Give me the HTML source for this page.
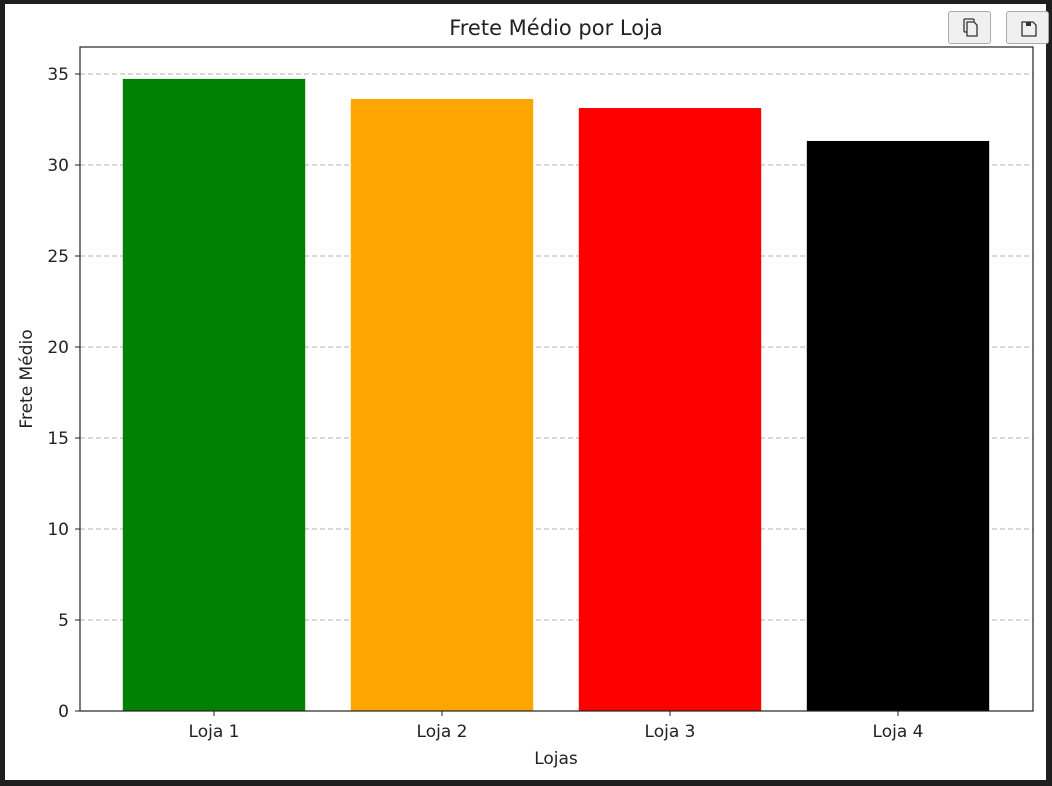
<!DOCTYPE html>
<html><head><meta charset="utf-8"><style>
body{margin:0;width:1052px;height:786px;background:#1f1f1f;overflow:hidden;font-family:"DejaVu Sans","Liberation Sans",sans-serif}
#card{position:absolute;left:5px;top:4px;width:1041px;height:776px;background:#fff}
.btn{position:absolute;top:11px;width:43px;height:33px;border:1px solid #aaa;border-radius:3px;background:#f0f0f0;box-sizing:border-box}
</style></head><body>
<div id="card"></div>
<div class="btn" style="left:948px">
<svg width="43" height="33"><rect x="15" y="7" width="10" height="13" fill="none" stroke="#333" stroke-width="1.3" rx="1"/><path d="M18 10h7l3 3v11h-10z" fill="#f0f0f0" stroke="#333" stroke-width="1.3"/></svg></div>
<div class="btn" style="left:1006px">
<svg width="43" height="33"><path d="M15 10h11l3 3v11h-14z" fill="none" stroke="#333" stroke-width="1.3"/><rect x="19" y="10" width="5" height="4" fill="#333"/></svg></div>
<svg id="chart" width="1052" height="786" style="position:absolute;left:0;top:0"></svg>
<script>
const categories=["Loja 1","Loja 2","Loja 3","Loja 4"];
const values=[34.73,33.63,33.13,31.32];
const colors=["green","orange","red","black"];
const yTicks=[0,5,10,15,20,25,30,35];
const L=80,R=1033,T=47,B=711;
const y=v=>B-v*(B-74)/35;
const step=228, x0=214;
const x=i=>x0+i*step;
const bw=0.8*step;
const svg=document.getElementById('chart');
const NS='http://www.w3.org/2000/svg';
function mk(t,a,txt){const e=document.createElementNS(NS,t);for(const k in a)e.setAttribute(k,a[k]);if(txt!=null)e.textContent=txt;svg.appendChild(e);return e;}
yTicks.forEach(v=>{
 if(v>0){const g=mk('line',{x1:L,x2:R,y1:y(v),y2:y(v),stroke:'#b0b0b0','stroke-dasharray':'5,3','stroke-width':1});
 
 }
 const tk=mk('line',{x1:L-5,x2:L,y1:y(v),y2:y(v),stroke:'#222'});
 
 
 const t=mk('text',{x:L-11,y:y(v)+6,'text-anchor':'end','font-size':17,fill:'#222'},v);
 
 
});
categories.forEach((c,i)=>{
 const b=mk('rect',{x:x(i)-bw/2,y:y(values[i]),width:bw,height:B-y(values[i]),fill:colors[i]});
 
 
 const tk=mk('line',{x1:x(i),x2:x(i),y1:B,y2:B+5,stroke:'#222'});
 
 
 const t=mk('text',{x:x(i),y:B+26,'text-anchor':'middle','font-size':17,fill:'#222'},c);
 
 
});
const fr=mk('rect',{x:L,y:T,width:R-L,height:B-T,fill:'none',stroke:'#222','stroke-width':1.2});


const ti=mk('text',{x:556,y:35,'text-anchor':'middle','font-size':21,fill:'#222'},'Frete Médio por Loja');


const xl=mk('text',{x:556,y:764,'text-anchor':'middle','font-size':17,fill:'#222'},'Lojas');


const yl=mk('text',{x:0,y:0,'text-anchor':'middle','font-size':17,fill:'#222',transform:'translate(32,379) rotate(-90)'},'Frete Médio');


</script>
</body></html>
